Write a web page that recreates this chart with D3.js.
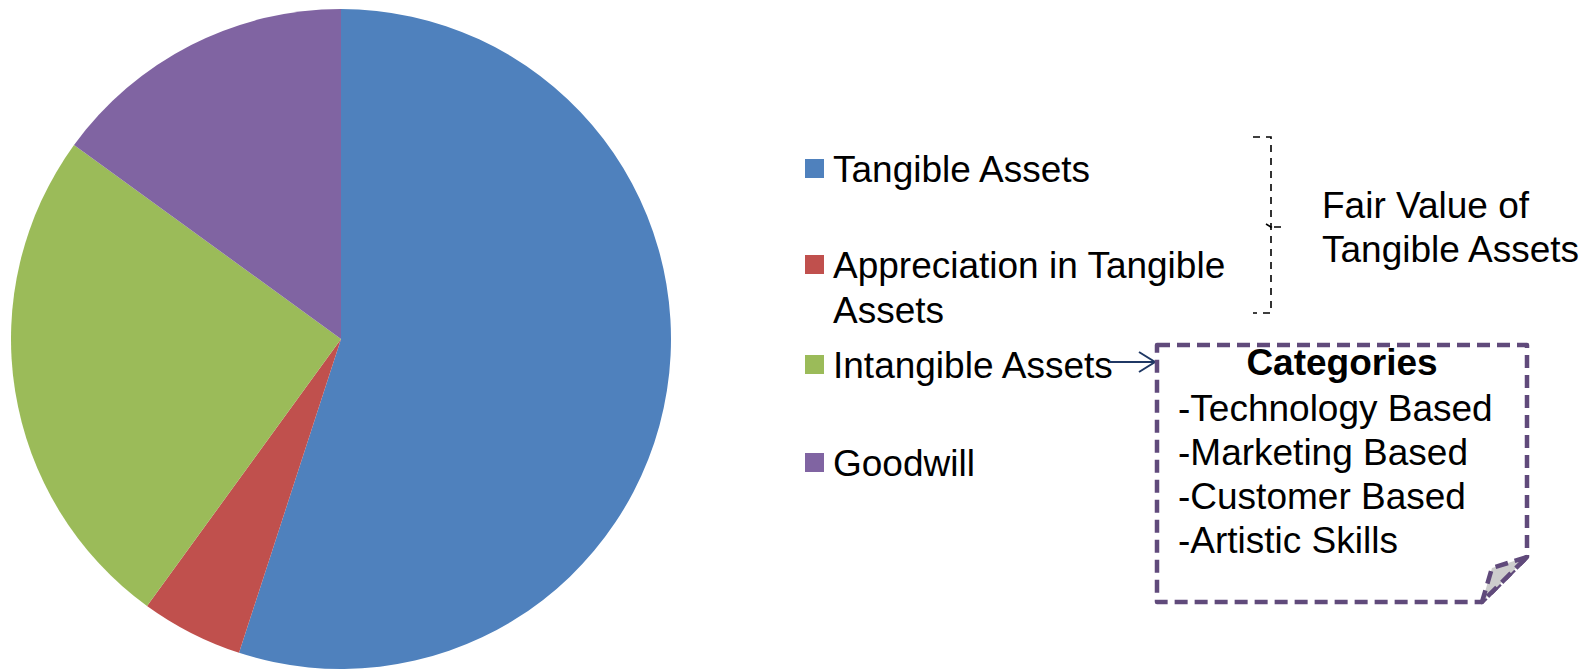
<!DOCTYPE html>
<html>
<head>
<meta charset="utf-8">
<script src="https://cdn.jsdelivr.net/npm/d3@7"></script>
<style>
    body { margin: 0; background: #fff; }
    text { font-family: "Liberation Sans", Arial, sans-serif; }
</style>
</head>
<body>
<svg id="chart"></svg>
<script>
// chart data
var categories = ["Tangible Assets", "Appreciation in Tangible Assets", "Intangible Assets", "Goodwill"]
var values = [55, 5, 25, 15]
var colors = ["#4f81bd", "#c0504d", "#9bbb59", "#8064a2"]
var legendLines = [["Tangible Assets"], ["Appreciation in Tangible", "Assets"], ["Intangible Assets"], ["Goodwill"]]
var bracketLabel = ["Fair Value of", "Tangible Assets"]
var boxTitle = "Categories"
var boxItems = ["-Technology Based", "-Marketing Based", "-Customer Based", "-Artistic Skills"]

var dimensions = {
    width: 1588,
    height: 670,
    cx: 341,
    cy: 339,
    radius: 330,
    fontSize: 37
}

var svg = d3.select("#chart")
            .attr("width", dimensions.width)
            .attr("height", dimensions.height)

var data = categories.map((c, i) => ({name: c, value: values[i], color: colors[i]}))

//pie
var pie = d3.pie().sort(null).value(d => d.value)
var arc = d3.arc().innerRadius(0).outerRadius(dimensions.radius)

svg.append("g")
   .attr("transform", `translate(${dimensions.cx},${dimensions.cy})`)
   .selectAll("path")
   .data(pie(data))
   .enter()
   .append("path")
   .attr("d", arc)
   .attr("fill", d => d.data.color)
   .attr("stroke", "none")

//legend
var baselines = [182, 278, 378, 476]

var legend = svg.append("g")
                .selectAll("g")
                .data(data)
                .enter()
                .append("g")
                .attr("transform", (d, i) => `translate(805,${baselines[i]})`)

legend.append("rect")
      .attr("x", 0)
      .attr("y", -23)
      .attr("width", 19)
      .attr("height", 19)
      .attr("fill", d => d.color)

legend.append("text")
      .attr("font-size", dimensions.fontSize)
      .attr("fill", "#000")
      .selectAll("tspan")
      .data((d, i) => legendLines[i])
      .enter()
      .append("tspan")
      .attr("x", 28)
      .attr("dy", (d, i) => i === 0 ? 0 : 45)
      .text(d => d)

//bracket for the first two entries
var bracket = svg.append("g")
                 .attr("fill", "none")
                 .attr("stroke", "#000")
                 .attr("stroke-width", 1.6)
                 .attr("stroke-dasharray", "7,6")
bracket.append("path").attr("d", "M1253,137 H1271 V313 H1253")
bracket.append("path").attr("d", "M1266,224 L1271,227 L1266,230 M1274,227 H1287")

svg.append("text")
   .attr("font-size", dimensions.fontSize)
   .selectAll("tspan")
   .data(bracketLabel)
   .enter()
   .append("tspan")
   .attr("x", 1322)
   .attr("y", (d, i) => 218 + i * 44)
   .text(d => d)

//arrow to the categories box
svg.append("path")
   .attr("d", "M1109,362 H1154 M1139,352 L1155,362 L1139,372")
   .attr("fill", "none")
   .attr("stroke", "#1f3864")
   .attr("stroke-width", 2)

//categories box with folded corner
var box = {x0: 1157, y0: 345, x1: 1527, y1: 602, fold: 45}
svg.append("path")
   .attr("d", `M${box.x0},${box.y0} H${box.x1} V${box.y1 - box.fold} L${box.x1 - box.fold},${box.y1} H${box.x0} Z`)
   .attr("fill", "#fff")
   .attr("stroke", "#604a7b")
   .attr("stroke-width", 4.5)
   .attr("stroke-linejoin", "round")
   .attr("stroke-dasharray", "13,7")

svg.append("path")
   .attr("d", `M${box.x1},${box.y1 - box.fold} L${box.x1 - 35},${box.y1 - 34} L${box.x1 - box.fold},${box.y1} Z`)
   .attr("fill", "#cdcdcd")
   .attr("stroke", "#604a7b")
   .attr("stroke-width", 4.5)
   .attr("stroke-linejoin", "round")
   .attr("stroke-dasharray", "13,7")

svg.append("text")
   .attr("x", 1342)
   .attr("y", 375)
   .attr("text-anchor", "middle")
   .attr("font-size", dimensions.fontSize)
   .attr("font-weight", "bold")
   .text(boxTitle)

svg.append("g")
   .selectAll("text")
   .data(boxItems)
   .enter()
   .append("text")
   .attr("x", 1178)
   .attr("y", (d, i) => 421 + i * 44)
   .attr("font-size", dimensions.fontSize)
   .text(d => d)
</script>
</body>
</html>
